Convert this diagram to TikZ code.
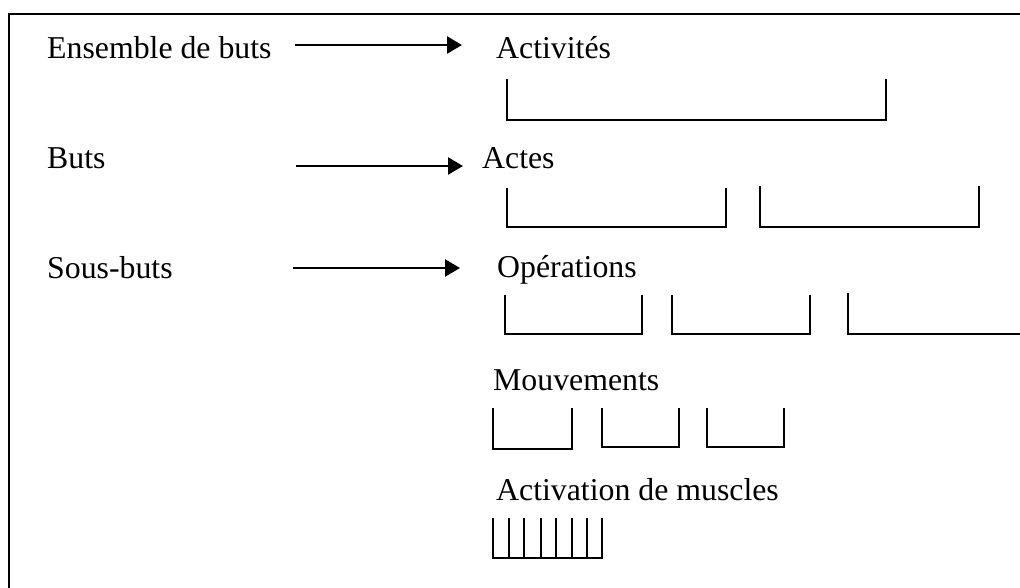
\documentclass[tikz,border=0pt]{standalone}
\usepackage{fontspec}
\setmainfont{Liberation Serif}
\usetikzlibrary{arrows.meta}
\begin{document}
\begin{tikzpicture}[x=1pt,y=-1pt,
  lbl/.style={anchor=base west,inner sep=0pt,font=\fontsize{31.8}{36}\selectfont},
  goalarrow/.style={line width=2.5pt,-{Triangle[length=15pt,width=17pt]}},
  brk/.style={line width=2.2pt,line cap=butt,line join=miter}]
\useasboundingbox (0,0) rectangle (1020,587);
\fill[white] (0,0) rectangle (1020,587);
% frame (open at right and bottom)
\draw[line width=1.6pt] (9,600) -- (9,14) -- (1030,14);
% left labels
\node[lbl] (ens) at (47,58) {Ensemble de buts};
\node[lbl] (buts) at (47,168) {Buts};
\node[lbl] (sous) at (47,278) {Sous-buts};
% right labels
\node[lbl] (act) at (496,58) {Activités};
\node[lbl] (actes) at (482,168) {Actes};
\node[lbl] (ops) at (497,277) {Opérations};
\node[lbl] (mouv) at (493,390) {Mouvements};
\node[lbl] (musc) at (496,500) {Activation de muscles};
% arrows
\coordinate (a1s) at (295,45); \coordinate (a1e) at (462,45);
\coordinate (a2s) at (296,166); \coordinate (a2e) at (463,166);
\coordinate (a3s) at (293,268); \coordinate (a3e) at (460,268);
\draw[goalarrow] (a1s) -- (a1e);
\draw[goalarrow] (a2s) -- (a2e);
\draw[goalarrow] (a3s) -- (a3e);
% brackets: activities
\draw[brk] (507,79) -- (507,120) -- (886,120) -- (886,79);
% actes
\draw[brk] (507,188) -- (507,227) -- (726,227) -- (726,188);
\draw[brk] (760,186) -- (760,227) -- (979,227) -- (979,186);
% operations
\draw[brk] (505,295) -- (505,334) -- (642,334) -- (642,295);
\draw[brk] (672,295) -- (672,334) -- (810,334) -- (810,295);
\draw[brk] (848,293) -- (848,334) -- (1022,334);
% mouvements
\draw[brk] (493,408) -- (493,449) -- (572,449) -- (572,408);
\draw[brk] (602,408) -- (602,447) -- (679,447) -- (679,408);
\draw[brk] (707,408) -- (707,447) -- (784,447) -- (784,408);
% muscles
\draw[brk] (493,518) -- (493,558) -- (602,558) -- (602,518);
\foreach \xx in {509,524,541,556,572,587} \draw[brk] (\xx,518) -- (\xx,558);
\end{tikzpicture}
\end{document}
